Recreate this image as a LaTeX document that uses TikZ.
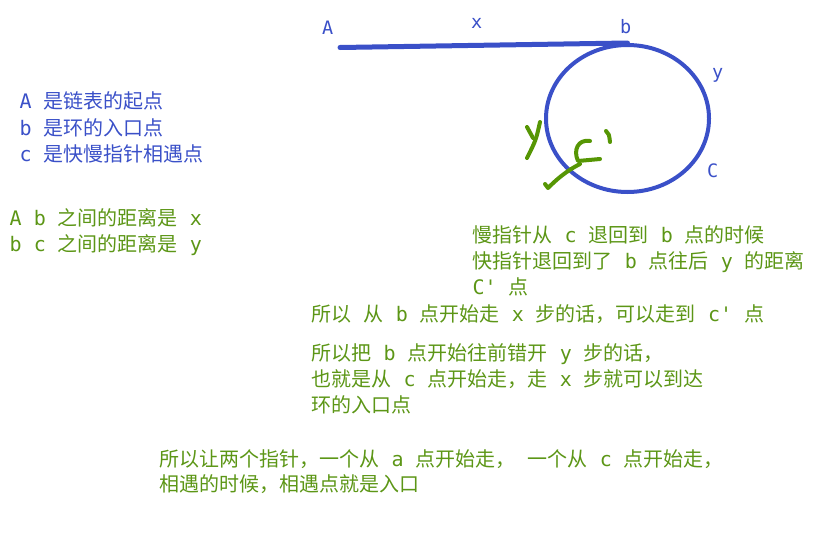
\documentclass[tikz,border=0pt]{standalone}
\usepackage{fontspec}
\setmonofont{DejaVu Sans Mono}
\newfontfamily\cjk{Noto Sans CJK SC}
\newcommand\h[1]{{\cjk #1}}
\usetikzlibrary{shapes.geometric}
\definecolor{myblue}{RGB}{58,80,200}
\definecolor{mygreen}{RGB}{92,150,22}
\definecolor{handgreen}{RGB}{86,150,4}
\begin{document}
\begin{tikzpicture}[x=1pt,y=-1pt,
  txt/.style={anchor=base west,inner sep=0pt,font=\ttfamily\fontsize{20}{26}\selectfont},
  bluetxt/.style={txt,text=myblue},
  greentxt/.style={txt,text=mygreen},
  lbl/.style={anchor=base west,inner sep=0pt,text=myblue,font=\ttfamily\fontsize{18.5}{22}\selectfont},
  chain/.style={draw=myblue,line width=5pt,line cap=round},
  hand/.style={draw=handgreen,line width=4pt,line cap=round,line join=round}]
\useasboundingbox (0,0) rectangle (826,533);
% diagram
\node[ellipse,draw=myblue,line width=4pt,minimum width=163pt,minimum height=147pt,inner sep=0pt] (loop) at (627.5,118.5) {};
\coordinate (start) at (340,47.5);
\draw[chain] (start) -- (loop.north);
\node[lbl] (lA) at (322,34) {A};
\node[lbl] (lx) at (471,28) {x};
\node[lbl] (lb) at (620,33) {b};
\node[lbl] (ly) at (712,78) {y};
\node[lbl] (lC) at (707,177) {C};
% handwritten green marks
\draw[hand] (527,127) -- (533,138);
\draw[hand] (540,122) .. controls (536,140) .. (527,158);
\draw[hand] (590,141) .. controls (578,139) and (573,150) .. (578,161) -- (600,159);
\draw[hand] (580,164) .. controls (566,171) and (556,180) .. (548,188) -- (545,184);
\draw[hand] (606,131) .. controls (609,134) .. (610,142);
% blue legend
\node[bluetxt] (t1) at (19.5,108.5) {A \h{是链表的起点}};
\node[bluetxt] (t2) at (19.5,135) {b \h{是环的入口点}};
\node[bluetxt] (t3) at (19.5,161) {c \h{是快慢指针相遇点}};
% green legend
\node[greentxt] (g1) at (9.5,225) {A b \h{之间的距离是} x};
\node[greentxt] (g2) at (9.5,251.5) {b c \h{之间的距离是} y};
% explanations
\node[greentxt] (e1) at (472.5,242) {\h{慢指针从} c \h{退回到} b \h{点的时候}};
\node[greentxt] (e2) at (472.5,268.5) {\h{快指针退回到了} b \h{点往后} y \h{的距离}};
\node[greentxt] (e3) at (472.5,294.5) {C' \h{点}};
\node[greentxt] (e4) at (311.5,321.5) {\h{所以} \h{从} b \h{点开始走} x \h{步的话，可以走到} c' \h{点}};
\node[greentxt] (e5) at (311.5,360) {\h{所以把} b \h{点开始往前错开} y \h{步的话，}};
\node[greentxt] (e6) at (311.5,386.5) {\h{也就是从} c \h{点开始走，走} x \h{步就可以到达}};
\node[greentxt] (e7) at (311.5,412.5) {\h{环的入口点}};
\node[greentxt] (f1) at (159.5,466.5) {\h{所以让两个指针，一个从} a \h{点开始走，} \h{一个从} c \h{点开始走，}};
\node[greentxt] (f2) at (159.5,491.5) {\h{相遇的时候，相遇点就是入口}};
\end{tikzpicture}
\end{document}
